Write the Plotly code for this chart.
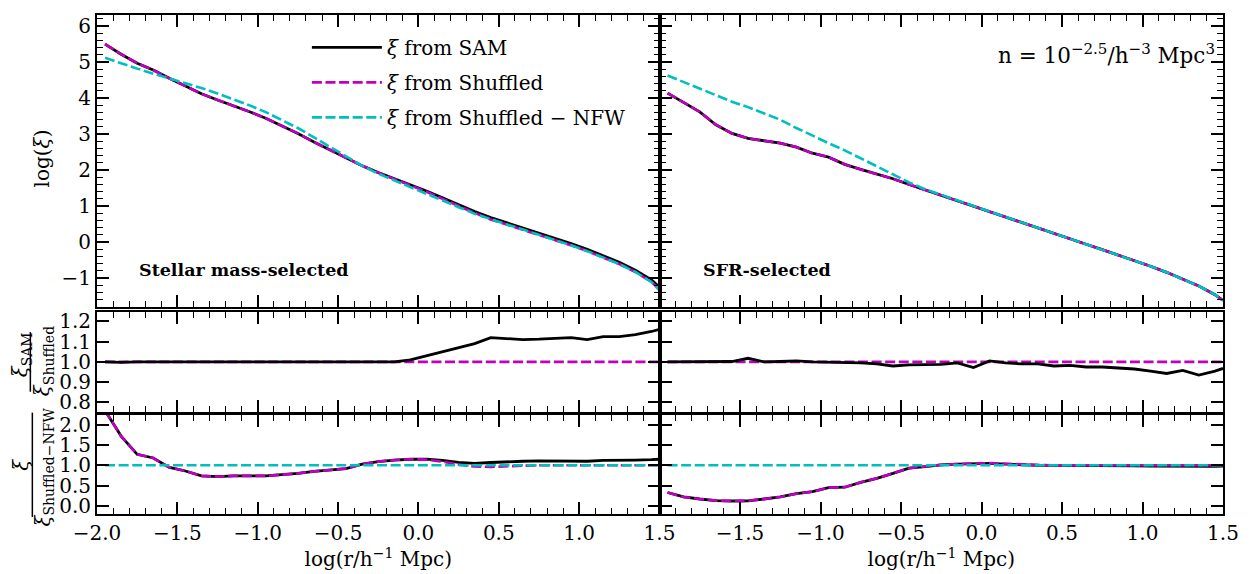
import plotly.graph_objects as go

# ---------------- data ----------------
r_log = [-1.95, -1.85, -1.75, -1.65, -1.55, -1.45, -1.35, -1.25, -1.15, -1.05,
         -0.95, -0.85, -0.75, -0.65, -0.55, -0.45, -0.35, -0.25, -0.15, -0.05,
         0.05, 0.15, 0.25, 0.35, 0.45, 0.55, 0.65, 0.75, 0.85, 0.95,
         1.05, 1.15, 1.25, 1.35, 1.45, 1.5]

# Stellar mass-selected: log(xi)
sm_sam = [5.50, 5.22, 4.97, 4.78, 4.55, 4.33, 4.12, 3.95, 3.79, 3.62,
          3.44, 3.24, 3.02, 2.78, 2.56, 2.33, 2.12, 1.93, 1.76, 1.60,
          1.42, 1.23, 1.03, 0.85, 0.68, 0.54, 0.40, 0.26, 0.11, -0.04,
          -0.20, -0.37, -0.56, -0.78, -1.05, -1.25]
sm_shuf = [5.50, 5.22, 4.97, 4.78, 4.55, 4.33, 4.12, 3.95, 3.79, 3.62,
           3.44, 3.24, 3.02, 2.78, 2.56, 2.33, 2.12, 1.93, 1.76, 1.59,
           1.40, 1.20, 1.00, 0.81, 0.63, 0.49, 0.35, 0.21, 0.06, -0.09,
           -0.25, -0.42, -0.61, -0.83, -1.11, -1.32]
sm_nfw = [5.12, 4.96, 4.82, 4.68, 4.55, 4.42, 4.28, 4.13, 3.97, 3.80,
          3.61, 3.40, 3.17, 2.91, 2.64, 2.37, 2.12, 1.90, 1.71, 1.53,
          1.35, 1.16, 0.97, 0.79, 0.63, 0.49, 0.35, 0.21, 0.06, -0.09,
          -0.25, -0.42, -0.61, -0.83, -1.11, -1.34]

# SFR-selected: log(xi)
sfr_sam = [4.14, 3.88, 3.62, 3.26, 3.02, 2.88, 2.81, 2.75, 2.64, 2.47,
           2.36, 2.16, 2.02, 1.90, 1.76, 1.60, 1.45, 1.30, 1.16, 1.01,
           0.85, 0.70, 0.55, 0.40, 0.24, 0.09, -0.06, -0.21, -0.36, -0.51,
           -0.67, -0.84, -1.02, -1.22, -1.46, -1.62]
sfr_shuf = [4.14, 3.88, 3.62, 3.26, 3.02, 2.88, 2.81, 2.75, 2.64, 2.47,
            2.36, 2.16, 2.02, 1.90, 1.76, 1.60, 1.45, 1.30, 1.16, 1.01,
            0.85, 0.70, 0.55, 0.40, 0.24, 0.09, -0.06, -0.21, -0.36, -0.51,
            -0.67, -0.84, -1.02, -1.22, -1.46, -1.62]
sfr_nfw = [4.63, 4.45, 4.26, 4.08, 3.90, 3.75, 3.58, 3.40, 3.17, 2.95,
           2.75, 2.55, 2.33, 2.10, 1.88, 1.66, 1.47, 1.31, 1.16, 1.01,
           0.85, 0.70, 0.55, 0.40, 0.24, 0.09, -0.06, -0.21, -0.36, -0.51,
           -0.67, -0.84, -1.02, -1.22, -1.46, -1.62]

# xi_SAM / xi_Shuffled
sm_ratio_sam = [1.0, 0.998, 1.0, 1.0, 1.0, 1.0, 1.001, 1.0, 1.0, 1.0,
                1.0, 1.0, 1.0, 1.0, 1.0, 1.0, 0.999, 0.998, 1.0, 1.01,
                1.03, 1.05, 1.07, 1.09, 1.12, 1.115, 1.11, 1.112, 1.117, 1.12,
                1.11, 1.125, 1.125, 1.135, 1.15, 1.16]
sm_ratio_shuf = [1.0] * 36
sfr_ratio_sam = [1.0, 1.0, 1.0, 1.0, 1.002, 1.018, 1.0, 1.002, 1.005, 1.0,
                 0.998, 0.998, 0.995, 0.99, 0.98, 0.985, 0.985, 0.988, 0.995, 0.972,
                 1.005, 0.995, 0.99, 0.99, 0.98, 0.983, 0.975, 0.975, 0.97, 0.965,
                 0.955, 0.943, 0.958, 0.935, 0.955, 0.968]
sfr_ratio_shuf = [1.0] * 36

# xi / xi_Shuffled-NFW
sm_nfwr_sam = [2.35, 1.72, 1.27, 1.18, 0.95, 0.86, 0.74, 0.72, 0.74, 0.74,
               0.74, 0.77, 0.80, 0.85, 0.89, 0.92, 1.03, 1.09, 1.13, 1.15,
               1.15, 1.12, 1.07, 1.05, 1.07, 1.09, 1.10, 1.11, 1.11, 1.11,
               1.10, 1.12, 1.12, 1.13, 1.14, 1.15]
sm_nfwr_shuf = [2.35, 1.72, 1.27, 1.18, 0.95, 0.86, 0.74, 0.72, 0.74, 0.74,
                0.74, 0.77, 0.80, 0.85, 0.89, 0.92, 1.03, 1.09, 1.13, 1.15,
                1.14, 1.09, 1.02, 0.97, 0.96, 0.98, 0.99, 1.0, 1.0, 1.0,
                1.0, 1.0, 1.0, 1.0, 1.0, 1.0]
sm_nfwr_nfw = [1.0] * 36
sfr_nfwr_sam = [0.33, 0.22, 0.17, 0.13, 0.12, 0.125, 0.17, 0.22, 0.30, 0.35,
                0.45, 0.46, 0.58, 0.68, 0.80, 0.93, 0.97, 1.01, 1.03, 1.04,
                1.05, 1.03, 1.01, 1.0, 1.0, 1.0, 0.995, 0.99, 0.99, 0.985,
                0.98, 0.975, 0.975, 0.97, 0.975, 0.98]
sfr_nfwr_shuf = [0.33, 0.22, 0.17, 0.13, 0.12, 0.125, 0.17, 0.22, 0.30, 0.35,
                 0.45, 0.46, 0.58, 0.68, 0.80, 0.93, 0.97, 1.01, 1.03, 1.04,
                 1.055, 1.04, 1.02, 1.01, 1.0, 1.0, 1.0, 1.0, 1.0, 1.0,
                 1.0, 1.0, 1.0, 1.0, 1.0, 1.0]
sfr_nfwr_nfw = [1.0] * 36

x_tickvals = [-2.0, -1.5, -1.0, -0.5, 0.0, 0.5, 1.0, 1.5]
x_ticktext_left = ["\u22122.0", "\u22121.5", "\u22121.0", "\u22120.5", "0.0", "0.5", "1.0", "1.5"]
x_ticktext_right = ["", "\u22121.5", "\u22121.0", "\u22120.5", "0.0", "0.5", "1.0", "1.5"]

BLACK = "#000000"
MAG = "#bf00bf"
CYAN = "#00bfbf"
DASH = "10px,3.6px"
FONT = "DejaVu Serif"
FS = 20

# ---------------- figure ----------------
fig = go.Figure()


def add(x, y, color, dash, ax, name=None, legend=False, width=2.6, group=None):
    fig.add_trace(go.Scatter(
        x=x, y=y, mode="lines", name=name, showlegend=legend,
        legendgroup=group,
        line=dict(color=color, width=width, dash=dash),
        xaxis="x" + ax, yaxis="y" + ax,
    ))


# top panels
add(r_log, sm_sam, BLACK, "solid", "1", "<i>\u03be</i> from SAM", True, 2.8, "g1")
add(r_log, sm_shuf, MAG, DASH, "1", "<i>\u03be</i> from Shuffled", True, group="g2")
add(r_log, sm_nfw, CYAN, DASH, "1", "<i>\u03be</i> from Shuffled \u2212 NFW", True, group="g3")
add(r_log, sfr_sam, BLACK, "solid", "2", width=2.8)
add(r_log, sfr_shuf, MAG, DASH, "2")
add(r_log, sfr_nfw, CYAN, DASH, "2")
# middle panels
add(r_log, sm_ratio_shuf, MAG, DASH, "3")
add(r_log, sm_ratio_sam, BLACK, "solid", "3", width=2.8)
add(r_log, sfr_ratio_shuf, MAG, DASH, "4")
add(r_log, sfr_ratio_sam, BLACK, "solid", "4", width=2.8)
# bottom panels
add(r_log, sm_nfwr_sam, BLACK, "solid", "5", width=2.8)
add(r_log, sm_nfwr_shuf, MAG, DASH, "5")
add(r_log, sm_nfwr_nfw, CYAN, DASH, "5")
add(r_log, sfr_nfwr_sam, BLACK, "solid", "6", width=2.8)
add(r_log, sfr_nfwr_shuf, MAG, DASH, "6")
add(r_log, sfr_nfwr_nfw, CYAN, DASH, "6")

W, H = 1251, 574
ML, MR, MT, MB = 97, 22, 13, 59
PW, PH = W - ML - MR, H - MT - MB


def px_x(p):
    return (p - ML) / PW


def px_y(p):
    return (H - MB - p) / PH


common = dict(showline=True, linewidth=2, linecolor="black", mirror="ticks",
              ticks="inside", ticklen=12, tickwidth=1.8, tickcolor="black",
              showgrid=False, zeroline=False,
              tickfont=dict(family=FONT, size=FS, color="black"))

xdom_l = [0, px_x(662.5)]
xdom_r = [px_x(662.5), 1]
ydom_top = [px_y(307), 1]
ydom_mid = [px_y(412), px_y(312)]
ydom_bot = [0, px_y(415)]

xminor = dict(ticks="inside", ticklen=6, tickwidth=1.3, tickcolor="black",
              dtick=0.1, tick0=0, showgrid=False)
xtitle = dict(text="log(r/h<sup>\u22121</sup> Mpc)", font=dict(family=FONT, size=FS, color="black"),
              standoff=3)

layout_axes = {}
for i, (xd, yd, row) in enumerate([
        (xdom_l, ydom_top, 1), (xdom_r, ydom_top, 1),
        (xdom_l, ydom_mid, 2), (xdom_r, ydom_mid, 2),
        (xdom_l, ydom_bot, 3), (xdom_r, ydom_bot, 3)], start=1):
    left = (i % 2 == 1)
    xa = dict(common, domain=xd, anchor="y%d" % i, range=[-2.0, 1.5],
              tickmode="array", tickvals=x_tickvals,
              ticktext=x_ticktext_left if left else x_ticktext_right,
              minor=xminor, showticklabels=(row == 3))
    if row == 3:
        xa["title"] = xtitle
    if row == 1:
        ya = dict(common, domain=yd, anchor="x%d" % i, range=[-1.81, 6.31],
                  tickmode="linear", dtick=1, tick0=0,
                  minor=dict(ticks="inside", ticklen=6, tickwidth=1.3, tickcolor="black",
                             dtick=0.2, tick0=0, showgrid=False))
    elif row == 2:
        ya = dict(common, domain=yd, anchor="x%d" % i, range=[0.755, 1.245],
                  tickmode="linear", dtick=0.1, tick0=0, tickformat=".1f")
    else:
        ya = dict(common, domain=yd, anchor="x%d" % i, range=[-0.2, 2.25],
                  tickmode="linear", dtick=0.5, tick0=0, tickformat=".1f")
    ya["showticklabels"] = left
    key = "" if i == 1 else str(i)
    layout_axes["xaxis" + key] = xa
    layout_axes["yaxis" + key] = ya

fig.update_layout(**layout_axes)

ann_font = dict(family=FONT, size=FS, color="black")
annotations = [
    dict(text="log(<i>\u03be</i>)", x=px_x(42), y=px_y(157), textangle=-90),
    dict(text="<i>\u03be</i><sub>SAM</sub>", x=px_x(21), y=px_y(355), textangle=-90),
    dict(text="<i>\u03be</i><sub>Shuffled</sub>", x=px_x(43), y=px_y(361), textangle=-90),
    dict(text="<i>\u03be</i>", x=px_x(21), y=px_y(465), textangle=-90),
    dict(text="<i>\u03be</i><sub>Shuffled\u2212NFW</sub>", x=px_x(44), y=px_y(468), textangle=-90),
]
for a in annotations:
    a.update(xref="paper", yref="paper", showarrow=False, font=ann_font,
             xanchor="center", yanchor="middle")

annotations += [
    dict(text="<b>Stellar mass-selected</b>", x=px_x(137), y=px_y(270), xref="paper", yref="paper",
         showarrow=False, xanchor="left", yanchor="middle",
         font=dict(family=FONT, size=17.5, color="black")),
    dict(text="<b>SFR-selected</b>", x=px_x(704), y=px_y(270), xref="paper", yref="paper",
         showarrow=False, xanchor="left", yanchor="middle",
         font=dict(family=FONT, size=17.5, color="black")),
    dict(text="n = 10<sup>\u22122.5</sup>/h<sup>\u22123</sup> Mpc<sup>3</sup>", x=px_x(1223), y=px_y(52),
         xref="paper", yref="paper", showarrow=False, xanchor="right", yanchor="middle",
         font=dict(family=FONT, size=21.5, color="black")),
]

shapes = [
    dict(type="line", xref="paper", yref="paper", x0=px_x(30), x1=px_x(30),
         y0=px_y(332), y1=px_y(392), line=dict(color="black", width=1.5)),
    dict(type="line", xref="paper", yref="paper", x0=px_x(32), x1=px_x(32),
         y0=px_y(413), y1=px_y(518), line=dict(color="black", width=1.5)),
]

fig.update_layout(
    width=W, height=H, autosize=False,
    margin=dict(l=ML, r=MR, t=MT, b=MB, pad=0),
    paper_bgcolor="white", plot_bgcolor="white",
    font=dict(family=FONT, size=FS, color="black"),
    annotations=annotations, shapes=shapes,
    legend=dict(x=px_x(308), y=px_y(26), xanchor="left", yanchor="top",
                bgcolor="rgba(0,0,0,0)", borderwidth=0,
                font=dict(family=FONT, size=FS, color="black"),
                itemwidth=70, traceorder="grouped", tracegroupgap=6),
)

fig.write_html("out.html")
